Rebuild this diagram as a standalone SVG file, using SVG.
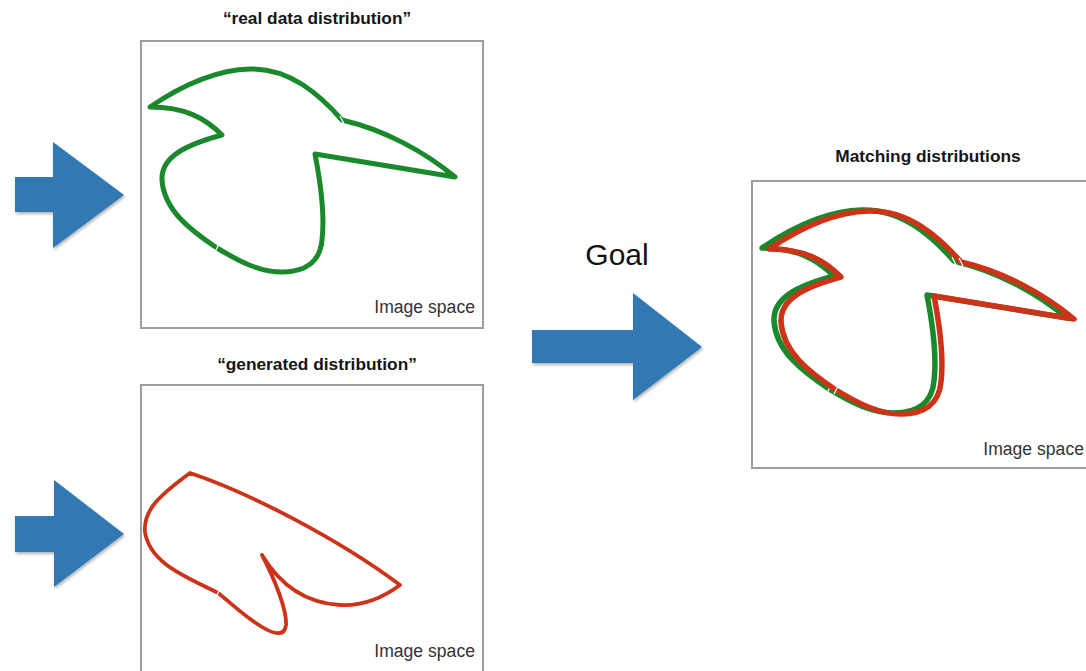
<svg xmlns="http://www.w3.org/2000/svg" width="1086" height="671" viewBox="0 0 1086 671">
  <defs>
    <style>
      .frame { fill: #ffffff; stroke: #9d9d9d; stroke-width: 2; }
      .title { font-family: "Liberation Sans", Arial, Helvetica, sans-serif; font-weight: bold; font-size: 17.3px; fill: #151515; text-anchor: middle; }
      .space { font-family: "Liberation Sans", Arial, Helvetica, sans-serif; font-size: 17.6px; fill: #333333; text-anchor: end; }
      .goal { font-family: "Liberation Sans", Arial, Helvetica, sans-serif; font-size: 30px; fill: #111111; text-anchor: middle; }
      .real { fill: none; stroke: #19892b; stroke-linejoin: round; }
      .gen { fill: none; stroke: #cc3318; stroke-linejoin: round; }
      .seam { stroke: #ffffff; stroke-width: 1.2; }
      .block { fill: #3078b2; filter: url(#shadow); }
    </style>
    <filter id="shadow" x="-10%" y="-10%" width="130%" height="130%">
      <feDropShadow dx="1" dy="2" stdDeviation="1.5" flood-color="#000000" flood-opacity="0.3"/>
    </filter>
    <!-- outline of the real data distribution -->
    <path id="realShape" d="M150,107 C175,90 210,70 250,69 C290,68 320,95 342,120 C385,130 425,152 455,177 L315,154 C321,185 325,215 322,240 C320,262 305,272 282,272 C260,272 240,262 217,248 C190,230 164,210 162,180 C161,157 185,145 222,135 C205,118 185,107 150,107 Z"/>
    <!-- small seams where the outline segments meet -->
    <g id="realSeams">
      <line x1="340" y1="116" x2="344" y2="124"/>
      <line x1="219" y1="244" x2="215" y2="252"/>
    </g>
    <!-- outline of the generated distribution -->
    <path id="genShape" d="M190,473 C250,493 340,540 400,585 C380,600 360,606 340,605 C305,603 280,585 262,555 C275,580 287,610 286,625 C285,636 275,635 262,627 C245,617 230,602 218,593 C190,578 150,565 145,532 C143,510 160,495 190,473 Z"/>
  </defs>

  <rect width="1086" height="671" fill="#ffffff"/>

  <!-- real data distribution panel -->
  <g id="real-data">
    <text class="title" x="317" y="24">“real data distribution”</text>
    <rect class="frame" x="141" y="41" width="342" height="287"/>
    <use href="#realShape" class="real" stroke-width="5"/>
    <use href="#realSeams" class="seam"/>
    <text class="space" x="475" y="313">Image space</text>
  </g>

  <!-- generated distribution panel -->
  <g id="generated">
    <text class="title" x="317" y="370">“generated distribution”</text>
    <rect class="frame" x="141" y="385" width="342" height="292"/>
    <use href="#genShape" class="gen" stroke-width="3.8"/>
    <line class="seam" x1="220" y1="589" x2="216" y2="597"/>
    <text class="space" x="475" y="657">Image space</text>
  </g>

  <!-- matching distributions panel -->
  <g id="matching">
    <text class="title" x="928" y="162">Matching distributions</text>
    <rect class="frame" x="752" y="181" width="345" height="287"/>
    <g transform="translate(612,141)">
      <use href="#realShape" class="real" stroke-width="5.5"/>
      <use href="#realSeams" class="seam"/>
    </g>
    <g transform="translate(619,142)">
      <use href="#realShape" class="gen" stroke-width="5.5"/>
      <use href="#realSeams" class="seam"/>
    </g>
    <text class="space" x="1084" y="455">Image space</text>
  </g>

  <!-- block arrows -->
  <g id="connectors">
    <polygon class="block" points="15,177 53,177 53,142 124,195 53,248 53,212 15,212"/>
    <polygon class="block" points="15,516 54,516 54,480 124,534 54,587 54,552 15,552"/>
    <polygon class="block" points="532,330 633,330 633,293 702,347 633,400 633,363 532,363"/>
    <text class="goal" x="617" y="265">Goal</text>
  </g>
</svg>
